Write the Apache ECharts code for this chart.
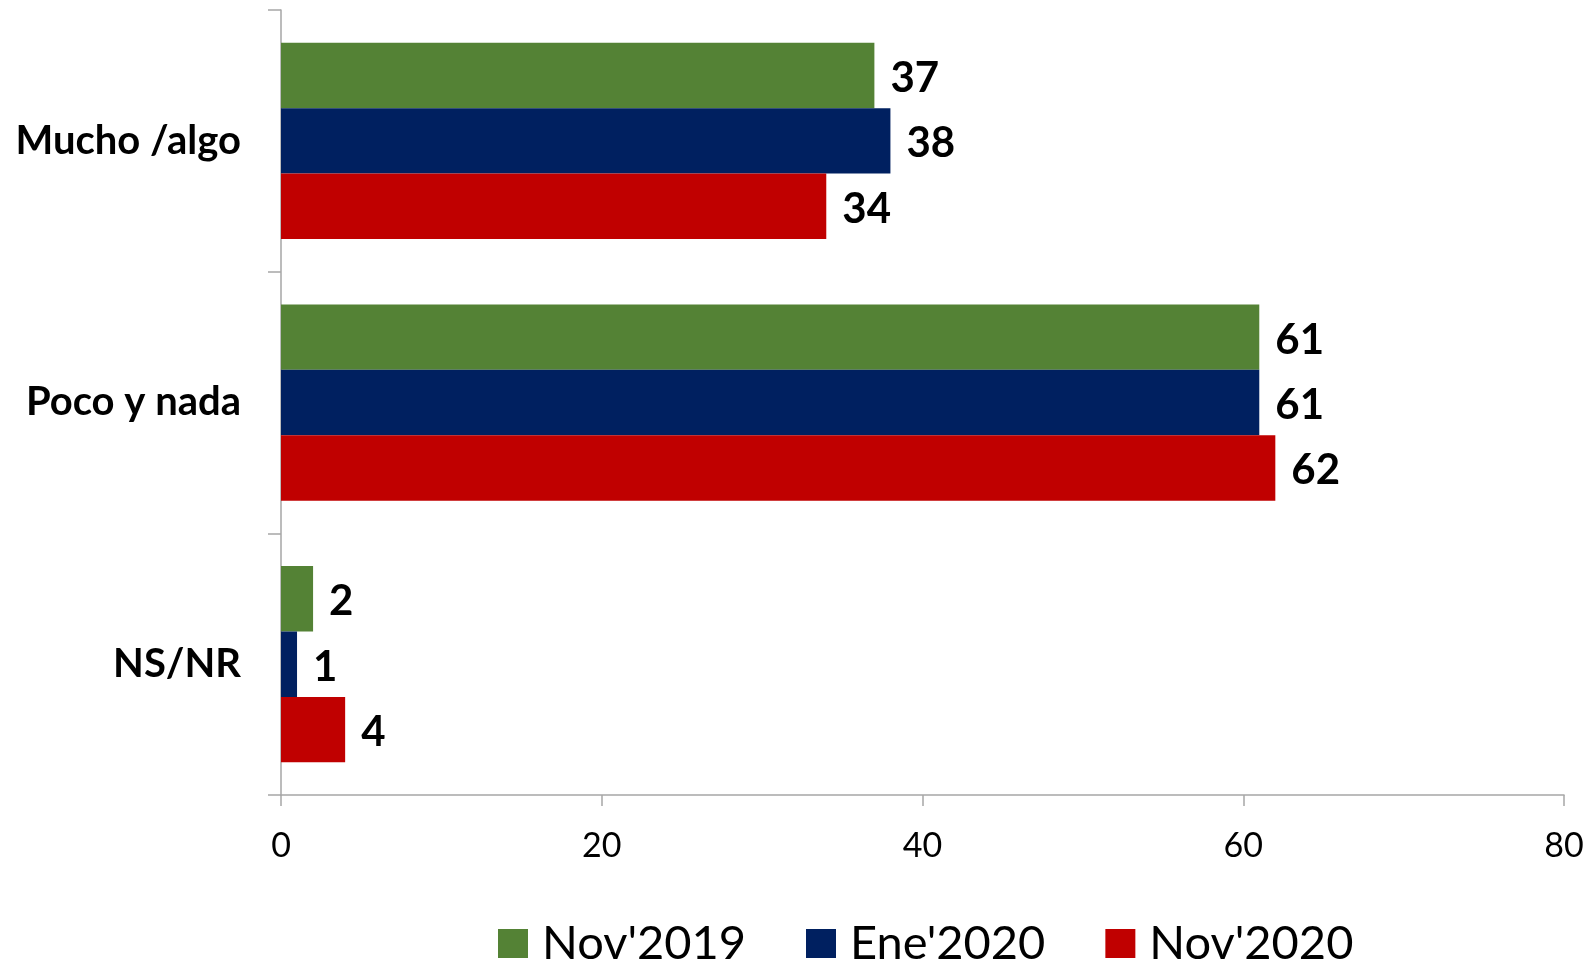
<!DOCTYPE html>
<html>
<head>
<meta charset="utf-8">
<script src="https://cdn.jsdelivr.net/npm/echarts@6/dist/echarts.min.js"></script>
<style>
  html, body { margin: 0; padding: 0; background: #fff; }
  #chart { width: 1596px; height: 962px; }
</style>
</head>
<body>
<div id="chart"></div>
<script>
// Survey answers by wave
const categories = ['Mucho /algo', 'Poco y nada', 'NS/NR'];
const seriesNames = ["Nov'2019", "Ene'2020", "Nov'2020"];
const nov2019 = [37, 61, 2];
const ene2020 = [38, 61, 1];
const nov2020 = [34, 62, 4];
const xTicks = { min: 0, max: 80, interval: 20 };

const colors = ['#548235', '#002060', '#C00000'];
const FONT = 'Lato, "Open Sans", sans-serif';
const axisGray = '#A6A6A6';

const seriesData = [nov2019, ene2020, nov2020];

const chart = echarts.init(document.getElementById('chart'), null, { renderer: 'canvas' });

chart.setOption({
  animation: false,
  backgroundColor: '#ffffff',
  color: colors,
  grid: { left: 281, right: 32, top: 10, bottom: 167, containLabel: false },
  legend: {
    data: seriesNames,
    left: 498,
    top: 920,
    padding: 0,
    itemWidth: 30,
    itemHeight: 29,
    itemGap: 60,
    icon: 'rect',
    textStyle: {
      fontFamily: FONT,
      fontSize: 47,
      color: '#000',
      padding: [0, 0, 0, 9]
    }
  },
  xAxis: {
    type: 'value',
    min: xTicks.min,
    max: xTicks.max,
    interval: xTicks.interval,
    splitLine: { show: false },
    axisLine: { show: true, lineStyle: { color: axisGray, width: 1.5 } },
    axisTick: { show: true, length: 11, lineStyle: { color: axisGray, width: 1.5 } },
    axisLabel: { fontFamily: FONT, fontSize: 34, color: '#000', margin: 34 }
  },
  yAxis: {
    type: 'category',
    data: categories,
    inverse: true,
    axisLine: { show: true, lineStyle: { color: axisGray, width: 1.5 } },
    axisTick: { show: true, length: 13, alignWithLabel: false, lineStyle: { color: axisGray, width: 1.5 } },
    axisLabel: { fontFamily: FONT, fontSize: 40, fontWeight: 'bold', color: '#000', margin: 40 }
  },
  series: seriesNames.map((name, i) => ({
    name: name,
    type: 'bar',
    data: seriesData[i],
    barGap: '0%',
    barCategoryGap: '25%',
    itemStyle: { color: colors[i] },
    label: {
      show: true,
      position: 'right',
      distance: 16,
      offset: [0, 3],
      fontFamily: FONT,
      fontSize: 42,
      fontWeight: 'bold',
      color: '#000'
    }
  }))
});
</script>
</body>
</html>
